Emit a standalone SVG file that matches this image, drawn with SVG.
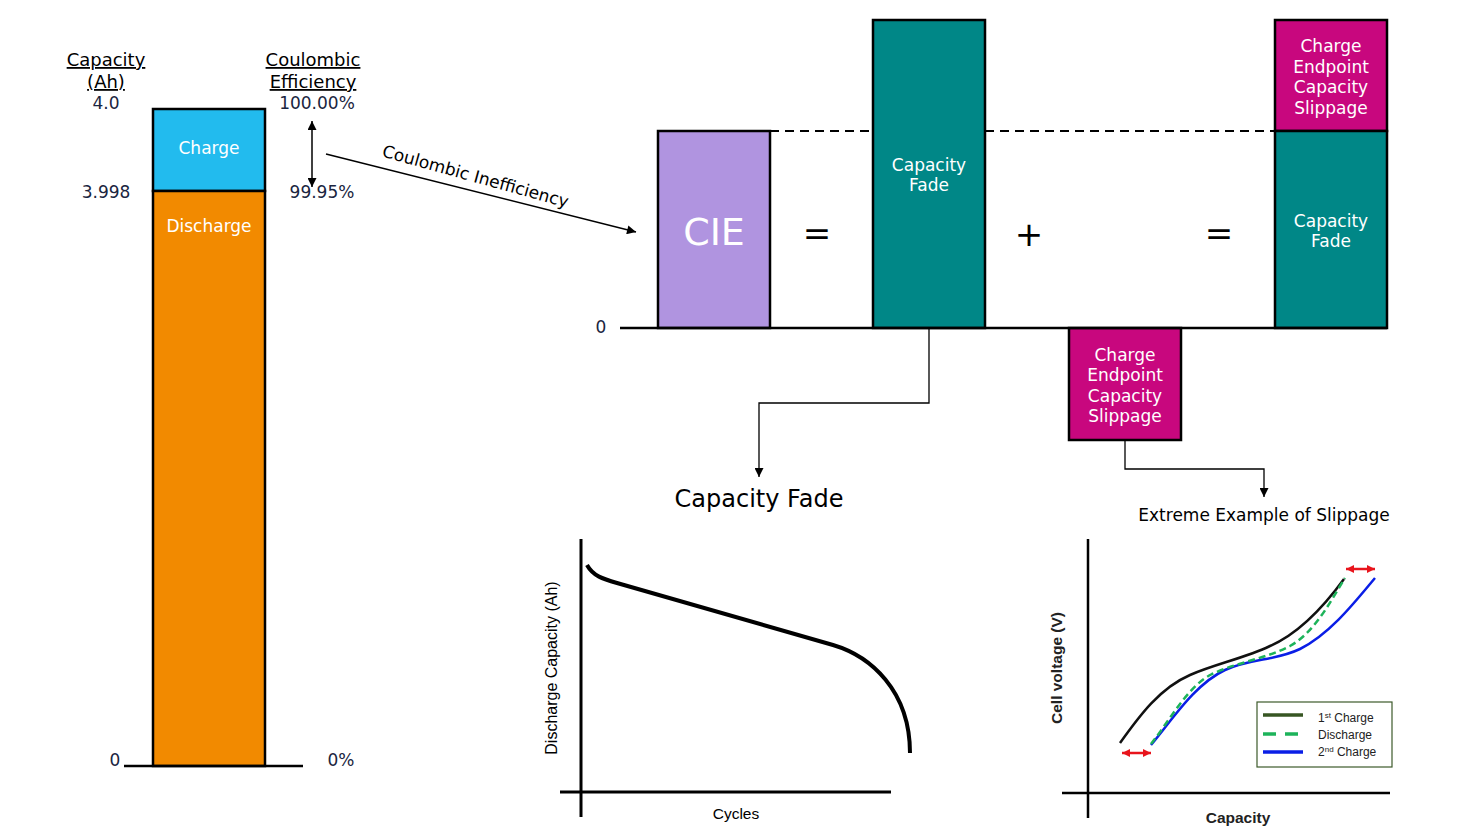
<svg xmlns="http://www.w3.org/2000/svg" width="1464" height="830" viewBox="0 0 1464 830">
<style>
.t{font-family:"DejaVu Sans",Verdana,sans-serif;}
.hd{font-size:18px;fill:#000;text-decoration:underline;text-anchor:middle;}
.num{font-size:17px;fill:#1a2540;}
.w{fill:#fff;font-size:17px;text-anchor:middle;}
.box{stroke:#000;stroke-width:2.5;}
.ln{stroke:#000;fill:none;}
.p{font-family:"Liberation Sans",Arial,sans-serif;}
</style>
<defs>
<marker id="ah" viewBox="0 0 10 10" refX="10" refY="5" markerWidth="10" markerHeight="9" markerUnits="userSpaceOnUse" orient="auto-start-reverse">
<path d="M0,0 L10,5 L0,10 z" fill="#000"/>
</marker>
<marker id="ar" viewBox="0 0 10 10" refX="10" refY="5" markerWidth="9" markerHeight="8" markerUnits="userSpaceOnUse" orient="auto-start-reverse">
<path d="M0,0 L10,5 L0,10 z" fill="#e8141c"/>
</marker>
</defs>
<rect width="1464" height="830" fill="#fff"/>

<g id="left-bar">
<text class="t hd" x="106" y="66">Capacity</text>
<text class="t hd" x="106" y="88">(Ah)</text>
<text class="t hd" x="313" y="66">Coulombic</text>
<text class="t hd" x="313" y="88">Efficiency</text>
<text class="t num" x="106" y="109" text-anchor="middle">4.0</text>
<text class="t num" x="317" y="109" text-anchor="middle">100.00%</text>
<text class="t num" x="106" y="198" text-anchor="middle">3.998</text>
<text class="t num" x="322" y="198" text-anchor="middle">99.95%</text>
<text class="t num" x="115" y="766" text-anchor="middle">0</text>
<text class="t num" x="341" y="766" text-anchor="middle">0%</text>
<rect id="charge" class="box" x="153" y="109" width="112" height="82" fill="#22bbee"/>
<rect id="discharge" class="box" x="153" y="191" width="112" height="575" fill="#f28a00"/>
<text class="t w" x="209" y="154">Charge</text>
<text class="t w" x="209" y="232">Discharge</text>
<line class="ln" x1="124" y1="766" x2="303" y2="766" stroke-width="2.5"/>
</g>

<g id="cie-eq">
<rect id="cie" class="box" x="658" y="131" width="112" height="197" fill="#b094e0"/>
<text class="t" x="714" y="245" fill="#fff" font-size="38" text-anchor="middle">CIE</text>
<text class="t" x="817" y="245" font-size="34" text-anchor="middle">=</text>
<rect id="fade1" class="box" x="873" y="20" width="112" height="308" fill="#008787"/>
<text class="t w" x="929" y="171">Capacity</text>
<text class="t w" x="929" y="191">Fade</text>
<text class="t" x="1029" y="246" font-size="34" text-anchor="middle">+</text>
<text class="t" x="1219" y="245" font-size="34" text-anchor="middle">=</text>
<rect id="slip-top" class="box" x="1275" y="20" width="112" height="111" fill="#c8077e"/>
<text class="t w" x="1331" y="52">Charge</text>
<text class="t w" x="1331" y="73">Endpoint</text>
<text class="t w" x="1331" y="93">Capacity</text>
<text class="t w" x="1331" y="114">Slippage</text>
<rect id="fade2" class="box" x="1275" y="131" width="112" height="197" fill="#008787"/>
<text class="t w" x="1331" y="227">Capacity</text>
<text class="t w" x="1331" y="247">Fade</text>
<rect id="slip-low" class="box" x="1069" y="328" width="112" height="112" fill="#c8077e"/>
<text class="t w" x="1125" y="361">Charge</text>
<text class="t w" x="1125" y="381">Endpoint</text>
<text class="t w" x="1125" y="402">Capacity</text>
<text class="t w" x="1125" y="422">Slippage</text>
<text class="t num" x="601" y="333" text-anchor="middle">0</text>
<line class="ln" x1="620" y1="328" x2="1387" y2="328" stroke-width="2.5"/>
</g>

<g id="connectors">
<line class="ln" x1="770" y1="131" x2="873" y2="131" stroke-width="2" stroke-dasharray="9,6"/>
<line class="ln" x1="985" y1="131" x2="1275" y2="131" stroke-width="2" stroke-dasharray="9,6"/>
<line class="ln" x1="312" y1="121" x2="312" y2="187" stroke-width="1.5" marker-start="url(#ah)" marker-end="url(#ah)"/>
<line class="ln" x1="326" y1="154" x2="636" y2="232" stroke-width="1.5" marker-end="url(#ah)"/>
<polyline class="ln" points="929,328 929,403 759,403 759,477" stroke-width="1.3" marker-end="url(#ah)"/>
<polyline class="ln" points="1125,440 1125,469 1264,469 1264,497" stroke-width="1.3" marker-end="url(#ah)"/>
</g>
<text class="t" x="474" y="182" font-size="17" text-anchor="middle" transform="rotate(15.5 474 182)">Coulombic Inefficiency</text>

<g id="fade-plot">
<text class="t" x="759" y="507" font-size="24" text-anchor="middle">Capacity Fade</text>
<line class="ln" x1="581" y1="539" x2="581" y2="817" stroke-width="3"/>
<line class="ln" x1="560" y1="792" x2="891" y2="792" stroke-width="3"/>
<path class="ln" d="M587,565 C593,576 603,579 617,583 L833,645 C870,656 910,690 910,753" stroke-width="4"/>
<text class="p" x="736" y="819" font-size="15.5" text-anchor="middle">Cycles</text>
<text class="p" x="557" y="668" font-size="16" text-anchor="middle" transform="rotate(-90 557 668)">Discharge Capacity (Ah)</text>
</g>

<g id="slip-plot">
<text class="t" x="1264" y="521" font-size="17" text-anchor="middle">Extreme Example of Slippage</text>
<line class="ln" x1="1088" y1="539" x2="1088" y2="818" stroke-width="2.5"/>
<line class="ln" x1="1062" y1="793" x2="1390" y2="793" stroke-width="2.5"/>
<path d="M1120,743 C1140,715 1160,688 1190,675 C1215,664 1245,658 1270,646 C1300,633 1325,605 1344,579" fill="none" stroke="#111" stroke-width="2.5"/>
<path d="M1151,745 C1172,720 1195,684 1225,670 C1252,658 1275,661 1300,649 C1330,634 1355,602 1375,578" fill="none" stroke="#0a1ee6" stroke-width="2.5"/>
<path d="M1151,744 C1170,720 1188,686 1212,674 C1238,662 1265,659 1290,646 C1315,632 1330,602 1345,578" fill="none" stroke="#1db35a" stroke-width="2.5" stroke-dasharray="7,4"/>
<line x1="1122" y1="753" x2="1151" y2="753" stroke="#e8141c" stroke-width="2.5" marker-start="url(#ar)" marker-end="url(#ar)"/>
<line x1="1346" y1="569" x2="1375" y2="569" stroke="#e8141c" stroke-width="2.5" marker-start="url(#ar)" marker-end="url(#ar)"/>
<rect x="1257" y="702" width="135" height="65" fill="#fff" stroke="#3d5a2a" stroke-width="1.2"/>
<line x1="1263" y1="715" x2="1303" y2="715" stroke="#375623" stroke-width="3.5"/>
<line x1="1263" y1="734" x2="1303" y2="734" stroke="#1db35a" stroke-width="3.5" stroke-dasharray="13,9"/>
<line x1="1263" y1="752" x2="1303" y2="752" stroke="#0a1ee6" stroke-width="3.5"/>
<text class="p" x="1318" y="722" font-size="12" fill="#222">1<tspan font-size="8" dy="-4">st</tspan><tspan dy="4"> Charge</tspan></text>
<text class="p" x="1318" y="739" font-size="12" fill="#222">Discharge</text>
<text class="p" x="1318" y="756" font-size="12" fill="#222">2<tspan font-size="8" dy="-4">nd</tspan><tspan dy="4"> Charge</tspan></text>
<text class="p" x="1057" y="663" font-size="15.5" font-weight="bold" text-anchor="middle" fill="#222" transform="rotate(-90 1062 663)">Cell voltage (V)</text>
<text class="p" x="1238" y="823" font-size="15.5" font-weight="bold" text-anchor="middle" fill="#222">Capacity</text>
</g>
</svg>
